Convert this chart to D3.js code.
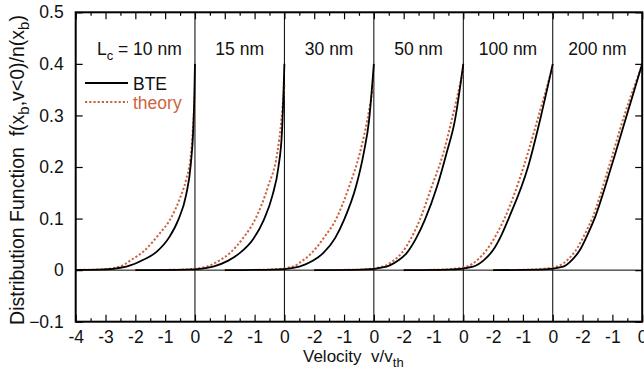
<!DOCTYPE html>
<html><head><meta charset="utf-8">
<script src="https://cdn.jsdelivr.net/npm/d3@7"></script>
<style>
body{margin:0;background:#fff}
svg text{font-family:"Liberation Sans",Arial,Helvetica,sans-serif;fill:#111;white-space:pre}
</style>
</head><body>
<svg id="chart" width="644" height="379"></svg>
<script>
// ---- data ----
const panelLabels = ["10 nm", "15 nm", "30 nm", "50 nm", "100 nm", "200 nm"];
const yTicks = [-0.1, 0, 0.1, 0.2, 0.3, 0.4, 0.5];
const firstPanelTicks = [-4, -3, -2, -1, 0];
const otherPanelTicks = [-2, -1, 0];

const bte10 = [[-5,0],[-3.2,0.001],[-2.3,0.007],[-1.73,0.02],[-1.3,0.035],[-0.85,0.065],[-0.56,0.0975],[-0.3,0.145],[-0.14,0.205],[-0.06,0.27],[-0.02,0.34],[0,0.40]];
const theory10 = [[-5,0],[-3.3,0.001],[-2.52,0.007],[-2.13,0.02],[-1.73,0.036],[-1.2,0.07],[-0.84,0.0975],[-0.5,0.14],[-0.3,0.175],[-0.13,0.227],[-0.05,0.291],[0,0.346]];
const bte15 = [[-5,0],[-3.3,0.001],[-2.39,0.007],[-1.9,0.018],[-1.5,0.033],[-1.05,0.06],[-0.69,0.0975],[-0.4,0.145],[-0.2,0.2],[-0.08,0.27],[0,0.40]];
const theory15 = [[-5,0],[-3.4,0.001],[-2.6,0.007],[-2.2,0.018],[-1.83,0.033],[-1.35,0.065],[-0.99,0.0975],[-0.55,0.162],[-0.24,0.227],[-0.1,0.291],[0,0.359]];
const bte30 = [[-5,0],[-3.4,0.001],[-2.5,0.007],[-2.05,0.018],[-1.7,0.033],[-1.3,0.062],[-1.0,0.0975],[-0.6,0.162],[-0.34,0.227],[-0.16,0.291],[0,0.40]];
const theory30 = [[-5,0],[-3.5,0.001],[-2.71,0.007],[-2.4,0.018],[-2.09,0.033],[-1.65,0.065],[-1.28,0.0975],[-0.83,0.162],[-0.47,0.227],[-0.22,0.291],[0,0.365]];
const bte50 = [[-5,0],[-3.4,0.001],[-2.57,0.007],[-2.2,0.018],[-1.9,0.033],[-1.58,0.062],[-1.29,0.0975],[-0.88,0.162],[-0.56,0.227],[-0.28,0.291],[0,0.40]];
const theory50 = [[-5,0],[-3.5,0.001],[-2.69,0.007],[-2.35,0.018],[-2.07,0.033],[-1.75,0.062],[-1.46,0.0975],[-1.06,0.162],[-0.67,0.227],[-0.39,0.291],[0,0.388]];
const bte100 = [[-5,0],[-3.5,0.001],[-2.67,0.007],[-2.3,0.02],[-2.0,0.039],[-1.72,0.068],[-1.48,0.10],[-0.83,0.20],[-0.39,0.30],[0,0.40]];
const theory100 = [[-5,0],[-3.7,0.001],[-2.89,0.007],[-2.52,0.02],[-2.22,0.039],[-1.9,0.068],[-1.62,0.10],[-0.98,0.20],[-0.47,0.30],[0,0.395]];
const bte200 = [[-5,0],[-3.5,0.001],[-2.65,0.007],[-2.35,0.02],[-2.09,0.039],[-1.84,0.068],[-1.6,0.10],[-1.04,0.20],[-0.52,0.30],[0,0.40]];
const theory200 = [[-5,0],[-3.7,0.001],[-2.87,0.007],[-2.5,0.02],[-2.22,0.039],[-1.94,0.068],[-1.68,0.10],[-1.12,0.20],[-0.6,0.30],[0,0.398]];

const bteSeries = [bte10, bte15, bte30, bte50, bte100, bte200];
const theorySeries = [theory10, theory15, theory30, theory50, theory100, theory200];

// ---- layout ----
const svg = d3.select("#chart");
const L = 75.7, R = 642.2, T = 12.3, B = 321.7;
const orange = "#cc6440";
const firstSpan = 4, panelSpan = 3, nPanels = 6;
const totalSpan = firstSpan + panelSpan * (nPanels - 1);
const x = d3.scaleLinear().domain([0, totalSpan]).range([L, R]);
const y = d3.scaleLinear().domain([-0.1, 0.5]).range([B, T]);
const zeroOf = i => firstSpan + panelSpan * i;

svg.append("defs").append("clipPath").attr("id", "clip")
  .append("rect").attr("x", L).attr("y", T).attr("width", R - L).attr("height", B - T);

// zero line
svg.append("line").attr("x1", L).attr("x2", R).attr("y1", y(0)).attr("y2", y(0))
  .attr("stroke", "#000").attr("stroke-width", 1);
// panel separators
for (let i = 0; i < nPanels - 1; i++) {
  svg.append("line").attr("x1", x(zeroOf(i))).attr("x2", x(zeroOf(i)))
    .attr("y1", T).attr("y2", B).attr("stroke", "#000").attr("stroke-width", 1);
}

const line = (i) => d3.line().x(d => x(zeroOf(i) + d[0])).y(d => y(d[1])).curve(d3.curveMonotoneX);
const g = svg.append("g").attr("clip-path", "url(#clip)");
theorySeries.forEach((s, i) => {
  g.append("path").attr("d", line(i)(s)).attr("fill", "none")
    .attr("stroke", orange).attr("stroke-width", 2).attr("stroke-dasharray", "2.2,2");
});
bteSeries.forEach((s, i) => {
  g.append("path").attr("d", line(i)(s)).attr("fill", "none")
    .attr("stroke", "#000").attr("stroke-width", 1.8);
});

// ---- axes ----
const majorU = [], minorU = [], labelOf = new Map();
for (let u = 0; u <= totalSpan; u++) majorU.push(u);
for (let u = 0.5; u < totalSpan; u++) minorU.push(u);
firstPanelTicks.forEach(t => labelOf.set(firstSpan + t, t));
for (let i = 1; i < nPanels; i++) otherPanelTicks.forEach(t => labelOf.set(zeroOf(i) + t, t));

const fmtX = u => labelOf.has(u) ? String(labelOf.get(u)) : "";
svg.append("g").attr("transform", `translate(0,${B})`)
  .call(d3.axisBottom(x).tickValues(majorU).tickSize(-7).tickPadding(9).tickFormat(fmtX));
svg.append("g").attr("transform", `translate(0,${B})`)
  .call(d3.axisBottom(x).tickValues(minorU).tickSize(-3.5).tickFormat(""));
svg.append("g").attr("transform", `translate(0,${T})`)
  .call(d3.axisTop(x).tickValues(majorU).tickSize(-7).tickFormat(""));
svg.append("g").attr("transform", `translate(0,${T})`)
  .call(d3.axisTop(x).tickValues(minorU).tickSize(-3.5).tickFormat(""));
svg.append("g").attr("transform", `translate(${L},0)`)
  .call(d3.axisLeft(y).tickValues(yTicks).tickSize(-7).tickPadding(12).tickFormat(d => d === 0 ? "0" : d3.format(".1f")(d)));
svg.append("g").attr("transform", `translate(${R},0)`)
  .call(d3.axisRight(y).tickValues(yTicks).tickSize(-7).tickFormat(""));

svg.selectAll(".domain").remove();
svg.selectAll(".tick line").attr("stroke", "#000").attr("stroke-width", 1.2);
svg.selectAll(".tick text").style("font-size", "17.5px").attr("fill", "#111");

// frame
svg.append("rect").attr("x", L).attr("y", T).attr("width", R - L).attr("height", B - T)
  .attr("fill", "none").attr("stroke", "#000").attr("stroke-width", 2);

// panel labels
panelLabels.forEach((lab, i) => {
  const left = i === 0 ? 0 : zeroOf(i) - panelSpan;
  const cx = (x(left) + x(zeroOf(i))) / 2;
  if (i === 0) {
    const t = svg.append("text").attr("x", cx + 4).attr("y", 55).attr("text-anchor", "middle").style("font-size", "17.5px");
    t.append("tspan").text("L");
    t.append("tspan").attr("dy", 5).style("font-size", "13px").text("c");
    t.append("tspan").attr("dy", -5).text(" = " + lab);
  } else {
    svg.append("text").attr("x", cx).attr("y", 55).attr("text-anchor", "middle").style("font-size", "17.5px").text(lab);
  }
});

// legend
svg.append("line").attr("x1", 85).attr("x2", 128).attr("y1", 83).attr("y2", 83).attr("stroke", "#000").attr("stroke-width", 2);
svg.append("text").attr("x", 133).attr("y", 90).style("font-size", "17.5px").text("BTE");
svg.append("line").attr("x1", 85).attr("x2", 128).attr("y1", 102).attr("y2", 102).attr("stroke", orange).attr("stroke-width", 2).attr("stroke-dasharray", "2.2,2");
svg.append("text").attr("x", 133).attr("y", 109).style("font-size", "17.5px").style("fill", orange).text("theory");

// axis titles
const xt = svg.append("text").attr("x", 303).attr("y", 362).style("font-size", "17px");
xt.append("tspan").text("Velocity  v/v");
xt.append("tspan").attr("dy", 5).style("font-size", "13px").text("th");

const yt = svg.append("text").attr("transform", "translate(24,170) rotate(-90)").attr("text-anchor", "middle").style("font-size", "19.5px");
yt.append("tspan").text("Distribution Function  f(x");
yt.append("tspan").attr("dy", 5).style("font-size", "15px").text("b");
yt.append("tspan").attr("dy", -5).text(",v<0)/n(x");
yt.append("tspan").attr("dy", 5).style("font-size", "15px").text("b");
yt.append("tspan").attr("dy", -5).text(")");
</script>
</body></html>
